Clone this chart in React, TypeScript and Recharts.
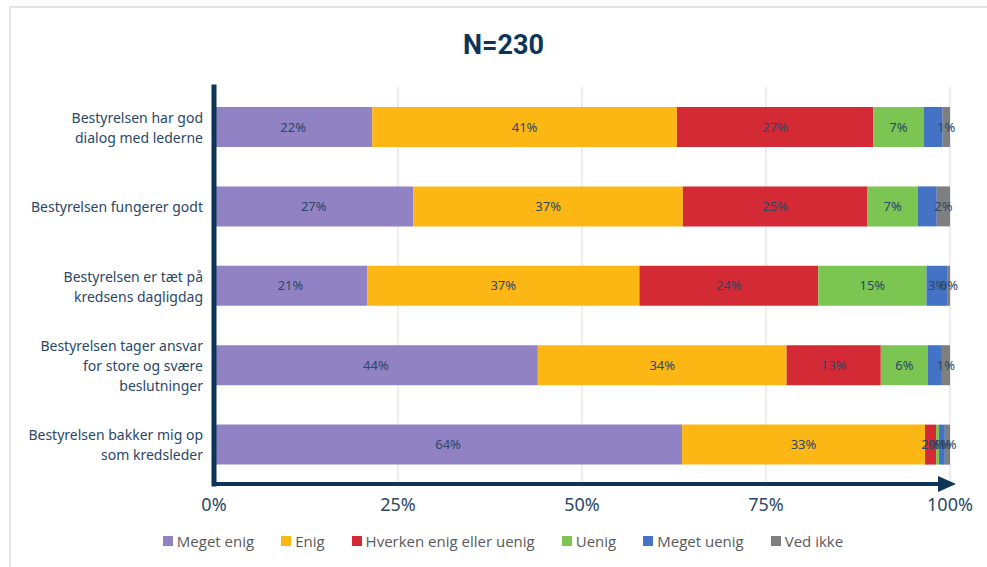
import React from "react";
import { Bar, BarChart, CartesianGrid, LabelList, XAxis, YAxis } from "recharts";

const categories = [
  "Bestyrelsen har god\ndialog med lederne",
  "Bestyrelsen fungerer godt",
  "Bestyrelsen er tæt på\nkredsens dagligdag",
  "Bestyrelsen tager ansvar\nfor store og svære\nbeslutninger",
  "Bestyrelsen bakker mig op\nsom kredsleder"
];

const megetEnig = [21.5, 27.1, 20.8, 44.0, 63.6];
const enig = [41.4, 36.6, 37.0, 33.8, 33.0];
const hverken = [26.7, 25.1, 24.3, 12.8, 1.5];
const uenig = [6.8, 6.8, 14.7, 6.4, 0.4];
const megetUenig = [2.6, 2.6, 2.9, 1.9, 0.8];
const vedIkke = [1.0, 1.8, 0.3, 1.1, 0.7];

// printed labels (some are hidden in the original)
const megetEnigLbl = ["22%", "27%", "21%", "44%", "64%"];
const enigLbl = ["41%", "37%", "37%", "34%", "33%"];
const hverkenLbl = ["27%", "25%", "24%", "13%", "2%"];
const uenigLbl = ["7%", "7%", "15%", "6%", "0%"];
const megetUenigLbl = ["", "", "3%", "", "1%"];
const vedIkkeLbl = ["1%", "2%", "0%", "1%", "1%"];

const xTicks = [0, 25, 50, 75, 100];

const series = [
  { key: "megetEnig", name: "Meget enig", color: "#9182c4", values: megetEnig, labels: megetEnigLbl },
  { key: "enig", name: "Enig", color: "#fdb714", values: enig, labels: enigLbl },
  { key: "hverken", name: "Hverken enig eller uenig", color: "#d42a36", values: hverken, labels: hverkenLbl },
  { key: "uenig", name: "Uenig", color: "#7dc552", values: uenig, labels: uenigLbl },
  { key: "megetUenig", name: "Meget uenig", color: "#4472c4", values: megetUenig, labels: megetUenigLbl },
  { key: "vedIkke", name: "Ved ikke", color: "#7f7f7f", values: vedIkke, labels: vedIkkeLbl }
];

const data = categories.map((cat, i) => {
  const row: Record<string, string | number> = { category: cat };
  series.forEach((s) => {
    row[s.key] = s.values[i];
    row[s.key + "Lbl"] = s.labels[i];
  });
  return row;
});

const navy = "#0d3558";
const textNavy = "#2b4768";

function CategoryTick(props: any) {
  const { x, y, payload } = props;
  const lines = String(payload.value).split("\n");
  const lineH = 20;
  const startY = y - ((lines.length - 1) * lineH) / 2;
  return (
    <text
      x={x}
      y={startY}
      textAnchor="end"
      dominantBaseline="central"
      fill={textNavy}
      fontSize={14}
      fontFamily="Noto Sans"
    >
      {lines.map((line, i) => (
        <tspan key={i} x={x} y={startY + i * lineH}>
          {line}
        </tspan>
      ))}
    </text>
  );
}

export default function App() {
  return (
    <div style={{ position: "absolute", left: 0, top: 0, width: 987, height: 567, background: "#fff", overflow: "hidden" }}>
      <svg width={0} height={0} style={{ position: "absolute" }}>
        <defs>
          <marker
            id="xArrow"
            markerUnits="userSpaceOnUse"
            markerWidth={20}
            markerHeight={18}
            refX={12}
            refY={9}
            orient="auto"
          >
            <path d="M0,1 L18,9 L0,17 z" fill={navy} />
          </marker>
        </defs>
      </svg>
      <div
        style={{
          position: "absolute",
          left: 9,
          top: 6,
          width: 1000,
          height: 600,
          border: "2px solid #e4e4e4",
          boxSizing: "border-box"
        }}
      />
      <div
        style={{
          position: "absolute",
          left: 10,
          top: 29,
          width: 987,
          textAlign: "center",
          fontFamily: "Roboto",
          fontWeight: 700,
          fontSize: 27,
          color: navy
        }}
      >
        N=230
      </div>
      <div style={{ position: "absolute", left: 0, top: 0 }}>
        <BarChart
          width={987}
          height={567}
          data={data}
          layout="vertical"
          margin={{ top: 87, right: 37, left: 0, bottom: 43 }}
          barSize={40}
        >
          <CartesianGrid horizontal={false} stroke="#d9d9d9" />
          <XAxis
            type="number"
            domain={[0, 100]}
            ticks={xTicks}
            tickFormatter={(v) => `${v}%`}
            tickLine={false}
            tickMargin={8}
            height={40}
            axisLine={{ stroke: navy, strokeWidth: 4, markerEnd: "url(#xArrow)" }}
            tick={{ fill: textNavy, fontSize: 18, fontFamily: "Noto Sans" }}
          />
          <YAxis
            type="category"
            dataKey="category"
            width={214}
            tickLine={false}
            tickSize={0}
            tickMargin={11}
            axisLine={{ stroke: navy, strokeWidth: 5, strokeLinecap: "square" }}
            tick={<CategoryTick />}
            interval={0}
          />
          {series.map((s) => (
            <Bar key={s.key} dataKey={s.key} name={s.name} stackId="a" fill={s.color} isAnimationActive={false}>
              <LabelList
                dataKey={s.key + "Lbl"}
                position="center"
                fill={textNavy}
                fontSize={13}
                fontFamily="Noto Sans"
              />
            </Bar>
          ))}
        </BarChart>
      </div>
      <div
        style={{
          position: "absolute",
          left: 0,
          top: 531,
          width: 1006,
          display: "flex",
          justifyContent: "center",
          gap: 27,
          fontFamily: "Open Sans",
          fontSize: 15,
          color: "#595959"
        }}
      >
        {series.map((s) => (
          <div key={s.key} style={{ display: "flex", alignItems: "center", gap: 4 }}>
            <span style={{ width: 10, height: 10, background: s.color, display: "inline-block" }} />
            <span>{s.name}</span>
          </div>
        ))}
      </div>
    </div>
  );
}
